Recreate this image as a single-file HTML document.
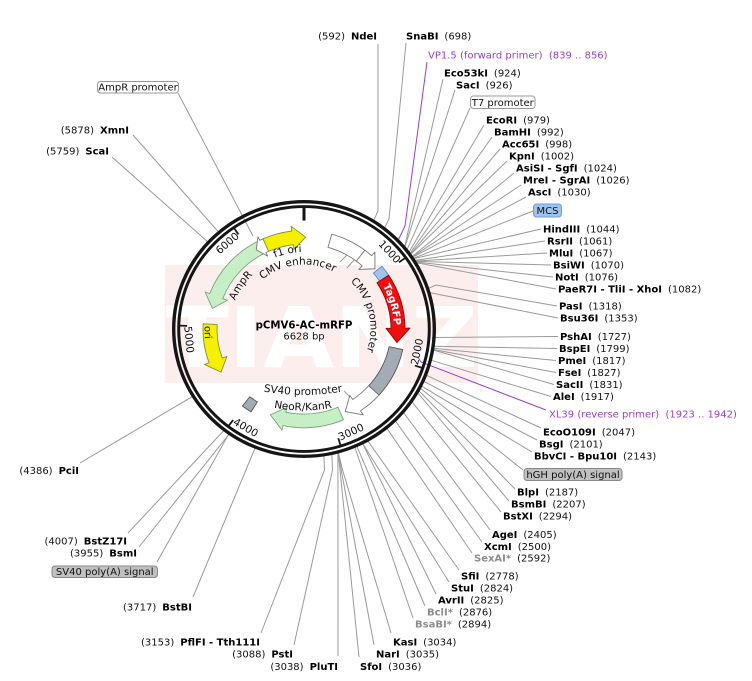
<!DOCTYPE html>
<html><head><meta charset="utf-8"><style>html,body{margin:0;padding:0;background:#fff;}svg{display:block;}</style></head>
<body>
<svg width="752" height="681" viewBox="0 0 752 681" xmlns="http://www.w3.org/2000/svg" font-family="'DejaVu Sans','Liberation Sans',sans-serif" font-size="10">
<defs>
<clipPath id="wm"><rect x="165" y="265" width="313" height="118"/></clipPath>
<path id="pf1" d="M252.48,271.78 A77,77 0 0 1 327.79,255.77"/>
<path id="pcmve" d="M245.08,302.77 A64.5,64.5 0 0 1 356.18,291.09"/>
<path id="pamp" d="M229.84,336.14 A74.5,74.5 0 0 1 284.09,257.21"/>
<path id="pcmvp" d="M323.44,265.41 A66.5,66.5 0 0 1 349.35,377.64"/>
<path id="ptag" d="M367.08,264.8 A90,90 0 0 1 391.13,351.54"/>
<path id="pori" d="M216.15,282.29 A99.5,99.5 0 0 0 219.62,381.72"/>
<path id="psv" d="M256,390 Q303,400 350,390"/>
<path id="pneo" d="M266,406 Q303,415 340,406"/>
</defs>
<rect width="752" height="681" fill="#fff"/>
<!-- watermark -->
<rect x="165" y="265" width="313" height="118" fill="#fdeeee"/>
<text x="166" y="367" font-size="84" font-weight="bold" fill="#ffffff" textLength="312" lengthAdjust="spacingAndGlyphs" clip-path="url(#wm)">TIANZ</text>

<!-- leader lines -->
<g stroke="#9a9a9a" stroke-width="1" fill="none">
<polyline points="373.7,220.6 378,211 378,44"/>
<polyline points="384.5,228 389,219 406,43"/>
<polyline points="404.6,247.1 443,79"/>
<polyline points="404.8,247.3 455,90"/>
<polyline points="407,249.8 470,108"/>
<polyline points="408.9,252.3 484,125"/>
<polyline points="409.8,253.5 492,137"/>
<polyline points="410.3,254.1 500,149"/>
<polyline points="410.5,254.5 507,161"/>
<polyline points="412.1,256.7 514,173"/>
<polyline points="412.3,256.9 521,185"/>
<polyline points="412.5,257.3 526,197"/>
<polyline points="413.2,258.4 533,211"/>
<polyline points="413.5,258.7 541,229"/>
<polyline points="414.6,260.5 545,241"/>
<polyline points="415,261.1 547,253"/>
<polyline points="415.2,261.4 551,265"/>
<polyline points="415.6,262 553,277"/>
<polyline points="416,262.6 556,289"/>
<polyline points="428.3,288.6 436,285 557,306"/>
<polyline points="429.6,292.6 558,318"/>
<polyline points="434.7,337.5 558,336.5"/>
<polyline points="433.8,346.2 557,348.5"/>
<polyline points="433.5,348.3 556,360.5"/>
<polyline points="433.3,349.5 556,372.5"/>
<polyline points="433.2,350 554,384.5"/>
<polyline points="431,360.2 551,396.5"/>
<polyline points="426.1,375.2 541,428"/>
<polyline points="423.6,381.3 537,440"/>
<polyline points="421.3,385.9 532,452"/>
<polyline points="420.2,388.1 523,470"/>
<polyline points="418.8,390.6 515,489"/>
<polyline points="417.6,392.7 509,501"/>
<polyline points="411.8,401.7 501,512"/>
<polyline points="403.4,412.3 490,530"/>
<polyline points="395.3,420.8 482,542"/>
<polyline points="386.8,428.2 472,553"/>
<polyline points="367.7,440.8 459,570"/>
<polyline points="362.7,443.4 449,582"/>
<polyline points="362.6,443.5 436,594"/>
<polyline points="356.8,446.1 425,606"/>
<polyline points="354.8,447 413,618"/>
<polyline points="338.4,452.5 342,468 391,633"/>
<polyline points="338.3,452.5 341,469 374,645"/>
<polyline points="338.1,452.6 340,470 359,657"/>
<polyline points="337.9,452.6 338,656"/>
<polyline points="331.8,454.1 332.5,470 294,645"/>
<polyline points="323.9,455.5 324.5,470 261,633"/>
<polyline points="255.2,447.8 193,597"/>
<polyline points="228.9,433.9 157,562"/>
<polyline points="229.2,434.1 139,547"/>
<polyline points="224,430.4 128,533"/>
<polyline points="192.6,396.4 80,463"/>
<polyline points="207.9,242 112,157"/>
<polyline points="218.5,232 133,135"/>
<polyline points="253,236 178,93"/>
<line x1="340" y1="262" x2="347" y2="255"/>
<line x1="347" y1="268" x2="363" y2="250"/>
<line x1="344" y1="391" x2="351" y2="398"/>
</g>
<g stroke="#9b3fc9" stroke-width="1" fill="none">
<polyline points="427,62 405,226 398.2,240.1"/>
<polyline points="418,357 421,362 546,410"/>
</g>

<!-- ring, ticks, features -->
<g transform="translate(304,329) scale(1,0.977)">
<circle r="130.3" fill="none" stroke="#151515" stroke-width="3.4"/>
<circle r="125.3" fill="none" stroke="#151515" stroke-width="3"/>
<g stroke="#151515">
<line x1="0" y1="-124" x2="0" y2="-111" stroke-width="3"/>
<line x1="100.7" y1="-72.35" x2="95" y2="-68.27" stroke-width="1.8"/>
<line x1="117.5" y1="39.62" x2="110.9" y2="37.38" stroke-width="1.8"/>
<line x1="36.36" y1="118.56" x2="34.3" y2="111.86" stroke-width="1.8"/>
<line x1="-75.07" y1="98.69" x2="-70.83" y2="93.12" stroke-width="1.8"/>
<line x1="-123.95" y1="-3.42" x2="-116.95" y2="-3.23" stroke-width="1.8"/>
<line x1="-69.51" y1="-102.68" x2="-65.59" y2="-96.89" stroke-width="1.8"/>
</g>
<g stroke-width="0.9" stroke-linejoin="round">
<!-- AmpR -->
<path d="M-45.85,-89.99 A101,101 0 0 0 -94.29,-36.2 L-98.96,-37.99 L-91.59,-21.15 L-76.56,-29.39 L-81.22,-31.18 A87,87 0 0 1 -39.5,-77.52 Z" fill="#c6efc6" stroke="#7f9f7f"/>
<!-- AmpR promoter -->
<path d="M-39.46,-92.97 L-44.28,-90.78 L-46.03,-94.37 L-47.71,-80.99 L-36.39,-74.6 L-38.14,-78.2 L-33.99,-80.08 Z" fill="#fff" stroke="#777"/>
<!-- f1 ori -->
<path d="M-41.08,-92.26 A101,101 0 0 1 -12.31,-100.24 L-12.92,-105.21 L1.64,-93.98 L-10,-81.39 L-10.61,-86.35 A87,87 0 0 0 -35.38,-79.47 Z" fill="#f4f000" stroke="#8a8a40"/>
<!-- ori -->
<path d="M-100.86,-5.28 A101,101 0 0 0 -94.91,34.54 L-99.61,36.25 L-82.99,44.13 L-77.06,28.04 L-81.75,29.75 A87,87 0 0 1 -86.88,-4.55 Z" fill="#f4f000" stroke="#8a8a40"/>
<!-- CMV enhancer -->
<path d="M27.84,-97.09 A101,101 0 0 1 62.18,-79.59 L53.57,-68.56 A87,87 0 0 0 23.98,-83.63 Z" fill="#fff" stroke="#777"/>
<!-- CMV promoter -->
<path d="M60.78,-80.66 A101,101 0 0 1 67.58,-75.05 L70.92,-78.77 L70.94,-61.67 L54.87,-60.93 L58.21,-64.65 A87,87 0 0 0 52.36,-69.48 Z" fill="#fff" stroke="#777"/>
<!-- MCS -->
<path d="M77.93,-64.25 A101,101 0 0 1 84.71,-55 L75.48,-49.01 A90,90 0 0 0 69.44,-57.25 Z" fill="#9dc3ee" stroke="#5f86b8"/>
<!-- TagRFP -->
<path d="M84.71,-55 A101,101 0 0 1 101,-0.88 L106,-0.93 L92.97,13.89 L82,-0.72 L87,-0.76 A87,87 0 0 0 72.97,-47.38 Z" fill="#ee1010" stroke="#990000"/>
<!-- hGH polyA -->
<path d="M98.79,21 A101,101 0 0 1 75.05,67.58 L64.65,58.21 A87,87 0 0 0 85.1,18.09 Z" fill="#a3abb4" stroke="#555"/>
<!-- SV40 promoter -->
<path d="M75.05,67.58 A101,101 0 0 1 56.48,83.73 L59.28,87.87 L41.21,84.49 L45.85,67.98 L48.65,72.12 A87,87 0 0 0 64.65,58.21 Z" fill="#fff" stroke="#777"/>
<!-- NeoR/KanR -->
<path d="M39.46,92.97 A101,101 0 0 1 -21,98.79 L-22.04,103.68 L-33.69,87.76 L-17.05,80.21 L-18.09,85.1 A87,87 0 0 0 33.99,80.08 Z" fill="#c6efc6" stroke="#7f9f7f"/>
<!-- SV40 polyA -->
<path d="M-52.99,84.8 A100,100 0 0 1 -61.57,78.8 L-54.18,69.34 A88,88 0 0 0 -46.63,74.62 Z" fill="#a3abb4" stroke="#555"/>
</g>
</g>

<!-- tick labels -->
<g font-size="10.5" fill="#111" text-anchor="middle" dominant-baseline="central">
<text x="389.2" y="252.2" transform="rotate(47.3 389.2 252.2)">1000</text>
<text x="417.6" y="351.8" transform="rotate(-78.4 417.6 351.8)">2000</text>
<text x="351.3" y="432.5" transform="rotate(-24.05 351.3 432.5)">3000</text>
<text x="245.5" y="428" transform="rotate(30.26 245.5 428)">4000</text>
<text x="188.5" y="339.7" transform="rotate(84.58 188.5 339.7)">5000</text>
<text x="227.7" y="243.6" transform="rotate(-41.1 227.7 243.6)">6000</text>
</g>

<!-- inner feature labels -->
<g font-size="10.5" fill="#111" text-anchor="middle">
<text><textPath href="#pf1" startOffset="50%">f1 ori</textPath></text>
<text><textPath href="#pcmve" startOffset="50%">CMV enhancer</textPath></text>
<text><textPath href="#pamp" startOffset="50%">AmpR</textPath></text>
<text><textPath href="#pcmvp" startOffset="50%">CMV promoter</textPath></text>
<text font-size="10"><textPath href="#pori" startOffset="50%">ori</textPath></text>
<text><textPath href="#psv" startOffset="50%">SV40 promoter</textPath></text>
<text><textPath href="#pneo" startOffset="50%">NeoR/KanR</textPath></text>
<text fill="#fff" font-size="10" font-weight="bold"><textPath href="#ptag" startOffset="50%">TagRFP</textPath></text>
</g>

<!-- center title -->
<text x="304" y="328.5" text-anchor="middle" font-weight="bold" font-size="10.2" fill="#000">pCMV6-AC-mRFP</text>
<text x="304" y="339.5" text-anchor="middle" font-size="10" fill="#111">6628 bp</text>

<!-- boxes -->
<rect x="470.5" y="96" width="64.5" height="12.5" rx="3" fill="#fff" stroke="#999"/>
<text x="502.75" y="105.8" text-anchor="middle" fill="#111">T7 promoter</text>
<rect x="533.5" y="204" width="28" height="13" rx="3" fill="#9dc3ee" stroke="#6f9fd8"/>
<text x="547.5" y="214.2" text-anchor="middle" fill="#111">MCS</text>
<rect x="524" y="468.5" width="98" height="12" rx="3" fill="#c0c0c0" stroke="#888"/>
<text x="573" y="478" text-anchor="middle" fill="#111">hGH poly(A) signal</text>
<rect x="52" y="566" width="105.5" height="11.5" rx="3" fill="#c0c0c0" stroke="#888"/>
<text x="104.75" y="575.2" text-anchor="middle" fill="#111">SV40 poly(A) signal</text>
<rect x="97.5" y="81.5" width="81" height="11.5" rx="3" fill="#fff" stroke="#999"/>
<text x="138" y="90.7" text-anchor="middle" fill="#111">AmpR promoter</text>

<!-- purple primer labels -->
<text x="428" y="58.6" fill="#9b3fc9">VP1.5 (forward primer)&#160; (839 .. 856)</text>
<text x="549" y="417.6" fill="#9b3fc9">XL39 (reverse primer)&#160; (1923 .. 1942)</text>

<!-- right-side enzyme labels -->
<g fill="#111">
<text x="406" y="39.6"><tspan font-weight="bold" fill="#000">SnaBI</tspan><tspan dx="6">(698)</tspan></text>
<text x="444" y="76.6"><tspan font-weight="bold" fill="#000">Eco53kI</tspan><tspan dx="6">(924)</tspan></text>
<text x="456" y="88.6"><tspan font-weight="bold" fill="#000">SacI</tspan><tspan dx="6">(926)</tspan></text>
<text x="486" y="123.6"><tspan font-weight="bold" fill="#000">EcoRI</tspan><tspan dx="6">(979)</tspan></text>
<text x="494" y="135.6"><tspan font-weight="bold" fill="#000">BamHI</tspan><tspan dx="6">(992)</tspan></text>
<text x="502" y="147.6"><tspan font-weight="bold" fill="#000">Acc65I</tspan><tspan dx="6">(998)</tspan></text>
<text x="509" y="159.6"><tspan font-weight="bold" fill="#000">KpnI</tspan><tspan dx="6">(1002)</tspan></text>
<text x="516" y="171.6"><tspan font-weight="bold" fill="#000">AsiSI - SgfI</tspan><tspan dx="6">(1024)</tspan></text>
<text x="523" y="183.6"><tspan font-weight="bold" fill="#000">MreI - SgrAI</tspan><tspan dx="6">(1026)</tspan></text>
<text x="528" y="195.6"><tspan font-weight="bold" fill="#000">AscI</tspan><tspan dx="6">(1030)</tspan></text>
<text x="543" y="232.6"><tspan font-weight="bold" fill="#000">HindIII</tspan><tspan dx="6">(1044)</tspan></text>
<text x="547" y="244.6"><tspan font-weight="bold" fill="#000">RsrII</tspan><tspan dx="6">(1061)</tspan></text>
<text x="549" y="256.6"><tspan font-weight="bold" fill="#000">MluI</tspan><tspan dx="6">(1067)</tspan></text>
<text x="553" y="268.6"><tspan font-weight="bold" fill="#000">BsiWI</tspan><tspan dx="6">(1070)</tspan></text>
<text x="555" y="280.6"><tspan font-weight="bold" fill="#000">NotI</tspan><tspan dx="6">(1076)</tspan></text>
<text x="558" y="292.6"><tspan font-weight="bold" fill="#000">PaeR7I - TliI - XhoI</tspan><tspan dx="6">(1082)</tspan></text>
<text x="559" y="309.6"><tspan font-weight="bold" fill="#000">PasI</tspan><tspan dx="6">(1318)</tspan></text>
<text x="560" y="321.6"><tspan font-weight="bold" fill="#000">Bsu36I</tspan><tspan dx="6">(1353)</tspan></text>
<text x="560" y="340.1"><tspan font-weight="bold" fill="#000">PshAI</tspan><tspan dx="6">(1727)</tspan></text>
<text x="559" y="352.1"><tspan font-weight="bold" fill="#000">BspEI</tspan><tspan dx="6">(1799)</tspan></text>
<text x="558" y="364.1"><tspan font-weight="bold" fill="#000">PmeI</tspan><tspan dx="6">(1817)</tspan></text>
<text x="558" y="376.1"><tspan font-weight="bold" fill="#000">FseI</tspan><tspan dx="6">(1827)</tspan></text>
<text x="556" y="388.1"><tspan font-weight="bold" fill="#000">SacII</tspan><tspan dx="6">(1831)</tspan></text>
<text x="553" y="400.1"><tspan font-weight="bold" fill="#000">AleI</tspan><tspan dx="6">(1917)</tspan></text>
<text x="543" y="435.6"><tspan font-weight="bold" fill="#000">EcoO109I</tspan><tspan dx="6">(2047)</tspan></text>
<text x="539" y="447.6"><tspan font-weight="bold" fill="#000">BsgI</tspan><tspan dx="6">(2101)</tspan></text>
<text x="534" y="459.6"><tspan font-weight="bold" fill="#000">BbvCI - Bpu10I</tspan><tspan dx="6">(2143)</tspan></text>
<text x="517" y="495.6"><tspan font-weight="bold" fill="#000">BlpI</tspan><tspan dx="6">(2187)</tspan></text>
<text x="511" y="507.6"><tspan font-weight="bold" fill="#000">BsmBI</tspan><tspan dx="6">(2207)</tspan></text>
<text x="503" y="519.6"><tspan font-weight="bold" fill="#000">BstXI</tspan><tspan dx="6">(2294)</tspan></text>
<text x="492" y="538.1"><tspan font-weight="bold" fill="#000">AgeI</tspan><tspan dx="6">(2405)</tspan></text>
<text x="484" y="550.1"><tspan font-weight="bold" fill="#000">XcmI</tspan><tspan dx="6">(2500)</tspan></text>
<text x="474" y="561.6"><tspan font-weight="bold" fill="#8c8c8c">SexAI*</tspan><tspan dx="6">(2592)</tspan></text>
<text x="461" y="579.6"><tspan font-weight="bold" fill="#000">SfiI</tspan><tspan dx="6">(2778)</tspan></text>
<text x="451" y="591.6"><tspan font-weight="bold" fill="#000">StuI</tspan><tspan dx="6">(2824)</tspan></text>
<text x="438" y="603.6"><tspan font-weight="bold" fill="#000">AvrII</tspan><tspan dx="6">(2825)</tspan></text>
<text x="427" y="615.6"><tspan font-weight="bold" fill="#8c8c8c">BclI*</tspan><tspan dx="6">(2876)</tspan></text>
<text x="415" y="627.6"><tspan font-weight="bold" fill="#8c8c8c">BsaBI*</tspan><tspan dx="6">(2894)</tspan></text>
<text x="393" y="645.6"><tspan font-weight="bold" fill="#000">KasI</tspan><tspan dx="6">(3034)</tspan></text>
<text x="376" y="657.6"><tspan font-weight="bold" fill="#000">NarI</tspan><tspan dx="6">(3035)</tspan></text>
<text x="360" y="670.1"><tspan font-weight="bold" fill="#000">SfoI</tspan><tspan dx="6">(3036)</tspan></text>
</g>

<!-- left-side enzyme labels -->
<g fill="#111" text-anchor="end">
<text x="377" y="39.6"><tspan>(592)</tspan><tspan dx="6" font-weight="bold" fill="#000">NdeI</tspan></text>
<text x="129" y="133.6"><tspan>(5878)</tspan><tspan dx="6" font-weight="bold" fill="#000">XmnI</tspan></text>
<text x="109" y="154.6"><tspan>(5759)</tspan><tspan dx="6" font-weight="bold" fill="#000">ScaI</tspan></text>
<text x="79" y="474.1"><tspan>(4386)</tspan><tspan dx="6" font-weight="bold" fill="#000">PciI</tspan></text>
<text x="127" y="544.6"><tspan>(4007)</tspan><tspan dx="6" font-weight="bold" fill="#000">BstZ17I</tspan></text>
<text x="137" y="556.6"><tspan>(3955)</tspan><tspan dx="6" font-weight="bold" fill="#000">BsmI</tspan></text>
<text x="192" y="610.6"><tspan>(3717)</tspan><tspan dx="6" font-weight="bold" fill="#000">BstBI</tspan></text>
<text x="260" y="645.6"><tspan>(3153)</tspan><tspan dx="6" font-weight="bold" fill="#000">PflFI - Tth111I</tspan></text>
<text x="293" y="657.6"><tspan>(3088)</tspan><tspan dx="6" font-weight="bold" fill="#000">PstI</tspan></text>
<text x="338" y="670.1"><tspan>(3038)</tspan><tspan dx="6" font-weight="bold" fill="#000">PluTI</tspan></text>
</g>
</svg>
</body></html>
